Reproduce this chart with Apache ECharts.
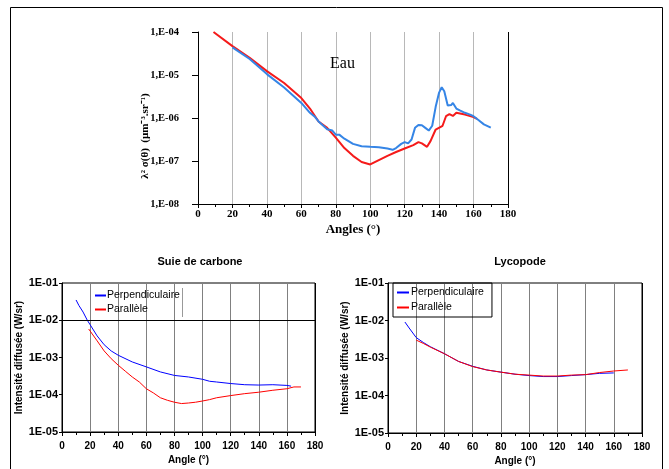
<!DOCTYPE html>
<html>
<head>
<meta charset="utf-8">
<script src="https://cdn.jsdelivr.net/npm/echarts@6/dist/echarts.min.js"></script>
<style>html,body{margin:0;padding:0;background:#fff;}#c{width:669px;height:469px;}</style>
</head>
<body>
<div id="c"></div>
<script>
// ---- Data ----
const eauRedAngles = [9,20,30,40,50,60,65,70,75,80,85,90,95,100,105,110,115,120,125,128,130,133,135,138,142,144,146,148,150,155,160,162];
const eauRed = [1.0e-4,4.7e-5,2.5e-5,1.23e-5,6.5e-6,2.9e-6,1.66e-6,8.3e-7,5.9e-7,3.5e-7,2.0e-7,1.32e-7,9.5e-8,8.3e-8,1.05e-7,1.32e-7,1.62e-7,1.95e-7,2.34e-7,2.75e-7,2.57e-7,2.14e-7,2.9e-7,5.4e-7,6.6e-7,1.1e-6,1.23e-6,1.12e-6,1.32e-6,1.2e-6,1.05e-6,9.5e-7];
const eauBlueAngles = [20,30,40,50,60,65,68,70,75,78,80,82,85,90,95,100,105,110,113,115,118,120,122,124,126,128,130,132,134,136,138,140,141.5,143,145,147,148,150,152,155,158,160,163,166,170];
const eauBlue = [4.4e-5,2.35e-5,1.05e-5,5.1e-6,2.24e-6,1.32e-6,1.05e-6,8.3e-7,5.5e-7,5.1e-7,4.1e-7,4.1e-7,3.3e-7,2.5e-7,2.2e-7,2.14e-7,2.1e-7,1.95e-7,1.82e-7,2.0e-7,2.5e-7,2.75e-7,2.57e-7,3.16e-7,5.9e-7,6.9e-7,6.8e-7,5.9e-7,5.1e-7,6.6e-7,1.82e-6,3.9e-6,5.2e-6,4.2e-6,1.95e-6,2.0e-6,2.24e-6,1.66e-6,1.5e-6,1.32e-6,1.2e-6,1.1e-6,8.9e-7,7.1e-7,6.0e-7];

const suiePerpAngles = [10,12,15,18,20,25,30,35,40,50,60,70,80,90,100,105,110,120,130,140,150,160,163];
const suiePerp = [3.5e-2,2.5e-2,1.66e-2,1.0e-2,7.6e-3,3.8e-3,2.2e-3,1.5e-3,1.15e-3,7.6e-4,5.6e-4,4.1e-4,3.3e-4,3.0e-4,2.6e-4,2.3e-4,2.2e-4,2.0e-4,1.86e-4,1.82e-4,1.86e-4,1.78e-4,1.7e-4];
const suieParAngles = [19,20,25,30,35,40,45,50,55,60,65,70,75,80,85,90,95,100,105,110,120,130,140,150,160,165,170];
const suiePar = [5.8e-3,5.2e-3,2.8e-3,1.5e-3,9.3e-4,6.2e-4,4.3e-4,3.0e-4,2.2e-4,1.45e-4,1.12e-4,8.3e-5,7.1e-5,6.3e-5,5.8e-5,6.0e-5,6.3e-5,6.8e-5,7.4e-5,8.3e-5,9.5e-5,1.07e-4,1.17e-4,1.32e-4,1.45e-4,1.62e-4,1.62e-4];

const lycoPerpAngles = [12,15,20,25,30,40,50,60,70,80,90,100,110,120,130,140,150,160];
const lycoPerp = [9.1e-3,6.3e-3,3.5e-3,2.6e-3,2.0e-3,1.3e-3,8.1e-4,6.0e-4,4.8e-4,4.2e-4,3.7e-4,3.4e-4,3.2e-4,3.2e-4,3.4e-4,3.6e-4,3.9e-4,4.0e-4];
const lycoParAngles = [20,25,30,40,50,60,70,80,90,100,110,120,130,140,150,160,170];
const lycoPar = [3.0e-3,2.45e-3,1.95e-3,1.3e-3,8.1e-4,5.9e-4,4.8e-4,4.2e-4,3.7e-4,3.5e-4,3.3e-4,3.3e-4,3.5e-4,3.6e-4,4.1e-4,4.5e-4,4.8e-4];

const topYTickLabels = {'-8':'1,E-08','-7':'1,E-07','-6':'1,E-06','-5':'1,E-05','-4':'1,E-04'};
const botYTickLabels = {'-5':'1E-05','-4':'1E-04','-3':'1E-03','-2':'1E-02','-1':'1E-01'};
const legendNames = ['Perpendiculaire','Parallèle'];

// ---- Helpers ----
const pairs = (xs, ys) => xs.map((x, i) => [x, ys[i]]);
const expOf = v => String(Math.round(Math.log10(v)));
const SERIF = 'Liberation Serif';
const SANS = 'Liberation Sans';
const noLbl = {show:false};

function mk(values, color) {
  return {
    silent: true, symbol: 'none', label: noLbl,
    lineStyle: {color: color || '#000', width: 1, type: 'solid'},
    data: values.map(v => ({yAxis: v}))
  };
}

const chart = echarts.init(document.getElementById('c'), null, {renderer: 'canvas'});
const topGridColors = ['#000','#b8b8b8','#b8b8b8','#b8b8b8','#b8b8b8','#b8b8b8','#b8b8b8','#b8b8b8','#b8b8b8','#000'];
const botGridColors = ['#000','#808080','#808080','#808080','#808080','#808080','#808080','#808080','#808080','#000'];

function xAx(gi, font, colors, labelOpt, nameOpt) {
  return Object.assign({
    type: 'value', gridIndex: gi, min: 0, max: 180, interval: 20,
    axisLine: {show: true, onZero: false, lineStyle: {color: '#000', width: 1}},
    axisTick: {show: true, length: 4, lineStyle: {color: '#000'}},
    minorTick: {show: true, splitNumber: 2, length: 3, lineStyle: {color: '#000'}},
    splitLine: {show: true, lineStyle: {color: colors, width: 1}},
    axisLabel: Object.assign({color: '#000', fontFamily: font, fontWeight: 'bold'}, labelOpt),
    nameLocation: 'middle',
    nameTextStyle: Object.assign({color: '#000', fontFamily: font, fontWeight: 'bold'}, nameOpt.style)
  }, nameOpt.base);
}

const option = {
  animation: false,
  backgroundColor: '#fff',
  title: [
    {text: 'Eau', left: 325, top: 51, textStyle: {fontFamily: SERIF, fontSize: 16, fontWeight: 'normal', color: '#000'}},
    {text: 'Suie de carbone', left: 195, top: 251, textAlign: 'center', textStyle: {fontFamily: SANS, fontSize: 11, fontWeight: 'bold', color: '#000'}},
    {text: 'Lycopode', left: 515, top: 251, textAlign: 'center', textStyle: {fontFamily: SANS, fontSize: 11, fontWeight: 'bold', color: '#000'}}
  ],
  legend: [
    {data: legendNames, left: 91, top: 289, orient: 'vertical', padding: [1,4,1,4], itemGap: 3,
     itemWidth: 11, itemHeight: 2, icon: 'rect', itemStyle: {borderWidth: 0},
     textStyle: {fontFamily: SANS, fontSize: 10.5, color: '#000', padding: [0,0,0,-4]}},
    {data: legendNames, left: 393, top: 283, orient: 'vertical', padding: [4,8,4,4], itemGap: 4,
     itemWidth: 12, itemHeight: 2, icon: 'rect', itemStyle: {borderWidth: 0},
     borderColor: '#000', borderWidth: 1,
     textStyle: {fontFamily: SANS, fontSize: 10.5, color: '#000', padding: [0,0,0,-3]}}
  ],
  grid: [
    {left: 198, top: 32, width: 310, height: 172},
    {left: 62, top: 283, width: 253, height: 149, show: true, borderColor: '#000', borderWidth: 1},
    {left: 388, top: 283, width: 254, height: 150, show: true, borderColor: '#000', borderWidth: 1}
  ],
  xAxis: [
    xAx(0, SERIF, topGridColors, {fontSize: 11, margin: 5},
        {base: {name: 'Angles (°)', nameGap: 19}, style: {fontSize: 13}}),
    xAx(1, SANS, botGridColors, {fontSize: 10, margin: 9},
        {base: {name: 'Angle (°)', nameGap: 23}, style: {fontSize: 10}}),
    xAx(2, SANS, botGridColors, {fontSize: 10, margin: 9},
        {base: {name: 'Angle (°)', nameGap: 23}, style: {fontSize: 10}})
  ],
  yAxis: [
    {type: 'log', gridIndex: 0, logBase: 10, min: 1e-8, max: 1e-4, interval: 1,
     axisLine: {show: true, lineStyle: {color: '#000'}},
     axisTick: {show: true, length: 6, lineStyle: {color: '#000'}},
     splitLine: {show: false},
     axisLabel: {color: '#000', fontFamily: SERIF, fontWeight: 'bold', fontSize: 10.5, margin: 19,
                 formatter: v => topYTickLabels[expOf(v)] || ''}},
    {type: 'log', gridIndex: 1, logBase: 10, min: 1e-5, max: 1e-1, interval: 1,
     axisLine: {show: true, lineStyle: {color: '#000'}},
     axisTick: {show: true, length: 3, lineStyle: {color: '#000'}},
     splitLine: {show: false},
     name: 'Intensité diffusée (W/sr)', nameLocation: 'middle', nameGap: 36,
     nameTextStyle: {color: '#000', fontFamily: SANS, fontWeight: 'bold', fontSize: 10},
     axisLabel: {color: '#000', fontFamily: SANS, fontWeight: 'bold', fontSize: 11, margin: 4,
                 formatter: v => botYTickLabels[expOf(v)] || ''}},
    {type: 'log', gridIndex: 2, logBase: 10, min: 1e-5, max: 1e-1, interval: 1,
     axisLine: {show: true, lineStyle: {color: '#000'}},
     axisTick: {show: true, length: 3, lineStyle: {color: '#000'}},
     splitLine: {show: false},
     name: 'Intensité diffusée (W/sr)', nameLocation: 'middle', nameGap: 36,
     nameTextStyle: {color: '#000', fontFamily: SANS, fontWeight: 'bold', fontSize: 10},
     axisLabel: {color: '#000', fontFamily: SANS, fontWeight: 'bold', fontSize: 11, margin: 4,
                 formatter: v => botYTickLabels[expOf(v)] || ''}}
  ],
  series: [
    {name: 'Eau perpendiculaire', type: 'line', xAxisIndex: 0, yAxisIndex: 0, showSymbol: false, symbol: 'none',
     data: pairs(eauBlueAngles, eauBlue), lineStyle: {color: '#3585e6', width: 2}, itemStyle: {color: '#3585e6'},
     markLine: mk([1e-5, 1e-6, 1e-7]), z: 3},
    {name: 'Eau parallèle', type: 'line', xAxisIndex: 0, yAxisIndex: 0, showSymbol: false, symbol: 'none',
     data: pairs(eauRedAngles, eauRed), lineStyle: {color: '#f51a1a', width: 2}, itemStyle: {color: '#f51a1a'}, z: 2},
    {name: 'Perpendiculaire', type: 'line', xAxisIndex: 1, yAxisIndex: 1, showSymbol: false, symbol: 'none',
     data: pairs(suiePerpAngles, suiePerp), lineStyle: {color: '#0000ff', width: 1}, itemStyle: {color: '#0000ff'},
     markLine: mk([1e-2])},
    {name: 'Parallèle', type: 'line', xAxisIndex: 1, yAxisIndex: 1, showSymbol: false, symbol: 'none',
     data: pairs(suieParAngles, suiePar), lineStyle: {color: '#ff0000', width: 1}, itemStyle: {color: '#ff0000'}},
    {name: 'Perpendiculaire', type: 'line', xAxisIndex: 2, yAxisIndex: 2, showSymbol: false, symbol: 'none',
     data: pairs(lycoPerpAngles, lycoPerp), lineStyle: {color: '#0000ff', width: 1}, itemStyle: {color: '#0000ff'},
     markLine: mk([1e-3, 1e-4])},
    {name: 'Parallèle', type: 'line', xAxisIndex: 2, yAxisIndex: 2, showSymbol: false, symbol: 'none',
     data: pairs(lycoParAngles, lycoPar), lineStyle: {color: '#ff0000', width: 1}, itemStyle: {color: '#ff0000'}}
  ],
  graphic: [
    {type: 'rect', shape: {x: 10.5, y: 7.5, width: 652, height: 470}, silent: true,
     style: {fill: 'none', stroke: '#000', lineWidth: 1}},
    {type: 'line', shape: {x1: 182.5, y1: 288, x2: 182.5, y2: 317}, silent: true,
     style: {stroke: '#999', lineWidth: 1}},
    {type: 'text', x: 145, y: 136, rotation: Math.PI / 2, silent: true,
     style: {text: 'λ² σ(θ)  (µm⁻³.sr⁻¹)', fontFamily: SERIF, fontWeight: 'bold', fontSize: 11,
             fill: '#000', textAlign: 'center', textVerticalAlign: 'middle'}}
  ]
};
chart.setOption(option);
</script>
</body>
</html>
